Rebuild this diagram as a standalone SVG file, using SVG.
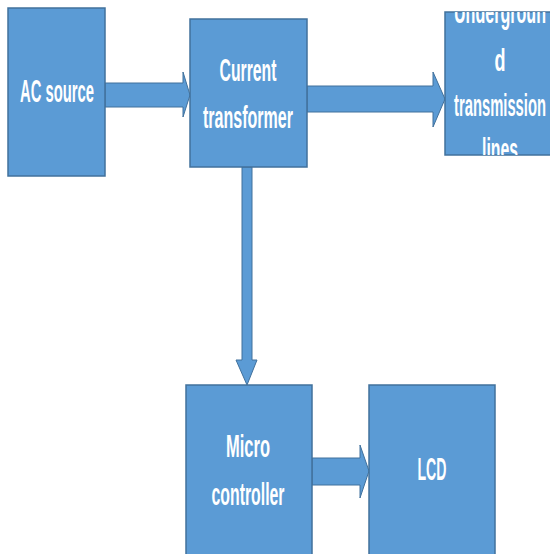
<svg xmlns="http://www.w3.org/2000/svg" width="550" height="554" viewBox="0 0 550 554">
<style>
.box{fill:#5B9BD5;stroke:#41719C;stroke-width:1.5}
.arr{fill:#5B9BD5;stroke:#41719C;stroke-width:1}
.t{font-family:"Liberation Sans Narrow","Liberation Sans",Arial,sans-serif;font-weight:bold;font-size:31px;fill:#ffffff;text-anchor:middle}
</style>
<defs>
<clipPath id="ugclip"><rect x="445" y="12" width="110" height="143"/></clipPath>
</defs>
<rect width="550" height="554" fill="#ffffff"/>
<g id="connectors">
<polygon class="arr" points="105,83 183,83 183,72 190,95 183,117 183,107 105,107"/>
<polygon class="arr" points="307,86 433,86 433,72 445,99 433,127 433,112 307,112"/>
<polygon class="arr" points="242,167 252,167 252,360 257,360 247,385 236,360 242,360"/>
<polygon class="arr" points="312,458 360,458 360,445 369,471 360,498 360,485 312,485"/>
</g>
<g id="ac">
<rect class="box" x="8" y="8" width="97" height="168"/>
<text class="t" x="57" y="102" textLength="74" lengthAdjust="spacingAndGlyphs">AC source</text>
</g>
<g id="ct">
<rect class="box" x="190" y="19" width="117" height="148"/>
<text class="t" x="248" y="81" textLength="57" lengthAdjust="spacingAndGlyphs">Current</text>
<text class="t" x="248" y="128" textLength="90" lengthAdjust="spacingAndGlyphs">transformer</text>
</g>
<g id="ug">
<rect class="box" x="445" y="12" width="110" height="143"/>
<g clip-path="url(#ugclip)">
<text class="t" x="500" y="23" textLength="92" lengthAdjust="spacingAndGlyphs">Undergroun</text>
<text class="t" x="500" y="71" textLength="11" lengthAdjust="spacingAndGlyphs">d</text>
<text class="t" x="500" y="116" textLength="92" lengthAdjust="spacingAndGlyphs">transmission</text>
<text class="t" x="500" y="160" textLength="36" lengthAdjust="spacingAndGlyphs">lines</text>
</g>
</g>
<g id="mc">
<rect class="box" x="186" y="385" width="126" height="175"/>
<text class="t" x="248" y="457" textLength="44" lengthAdjust="spacingAndGlyphs">Micro</text>
<text class="t" x="248" y="505" textLength="73" lengthAdjust="spacingAndGlyphs">controller</text>
</g>
<g id="lcd">
<rect class="box" x="369" y="385" width="126" height="175"/>
<text class="t" x="432" y="480" textLength="29" lengthAdjust="spacingAndGlyphs">LCD</text>
</g>
</svg>
